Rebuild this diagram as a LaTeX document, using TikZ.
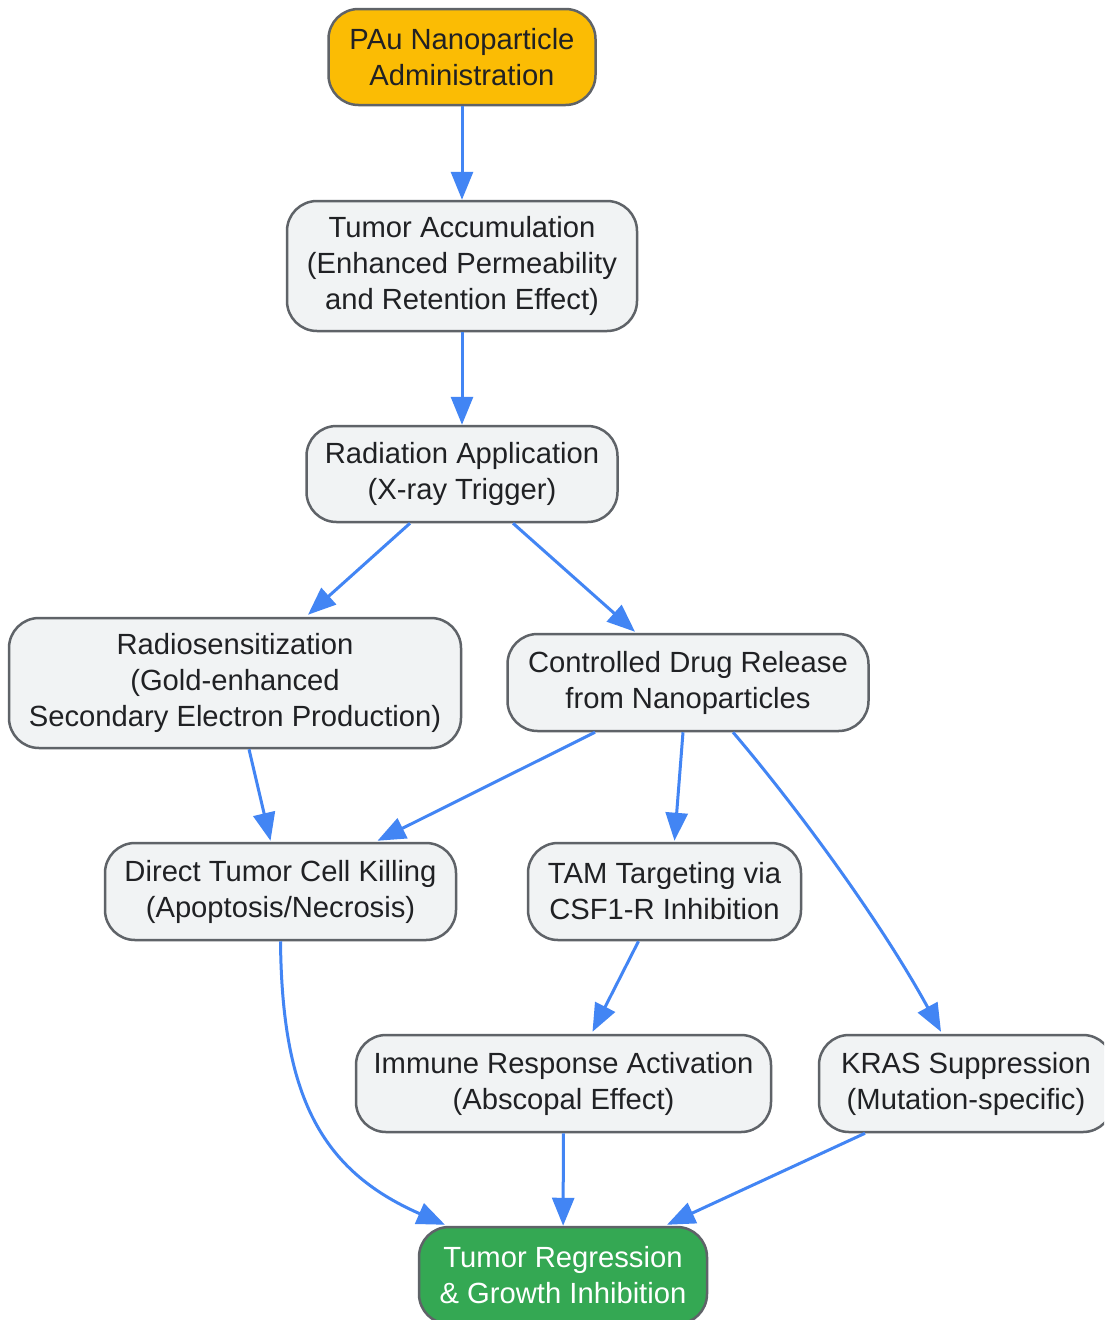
\documentclass[tikz,border=0pt]{standalone}
\usepackage{fontspec}
\setmainfont{Liberation Sans}
\usetikzlibrary{arrows.meta,calc}
\definecolor{edgec}{HTML}{4285F4}
\definecolor{boxfill}{HTML}{F1F3F4}
\definecolor{boxline}{HTML}{5F6368}
\definecolor{startfill}{HTML}{FBBC04}
\definecolor{endfill}{HTML}{34A853}
\definecolor{txt}{HTML}{202124}
\begin{document}
\begin{tikzpicture}[x=1pt,y=-1pt,
 box/.style={draw=boxline, line width=2.5pt, fill=boxfill, rounded corners=30pt, align=center, text=txt, font=\fontsize{29.2}{36}\selectfont, inner sep=0pt},
 link/.style={draw=edgec, line width=3pt, -{Triangle[length=28pt,width=22pt]}}]
\path[use as bounding box] (0,0) rectangle (1104,1320);
\clip (0,0) rectangle (1104,1320);
\fill[white] (0,0) rectangle (1104,1320);

\node[box, fill=startfill, minimum width=267pt, minimum height=96pt] (pau) at (462,57) {PAu Nanoparticle\\Administration};
\node[box, minimum width=350pt, minimum height=130pt] (ta) at (462,266) {Tumor Accumulation\\(Enhanced Permeability\\and Retention Effect)};
\node[box, minimum width=311pt, minimum height=96pt] (rad) at (462,474) {Radiation Application\\(X-ray Trigger)};
\node[box, minimum width=452pt, minimum height=130pt] (radio) at (235,683) {Radiosensitization\\(Gold-enhanced\\Secondary Electron Production)};
\node[box, minimum width=361pt, minimum height=97pt] (cdr) at (688,682.5) {Controlled Drug Release\\from Nanoparticles};
\node[box, minimum width=351pt, minimum height=97pt] (direct) at (280.5,891.5) {Direct Tumor Cell Killing\\(Apoptosis/Necrosis)};
\node[box, minimum width=273pt, minimum height=97pt] (tam) at (664.5,891.5) {TAM Targeting via\\CSF1-R Inhibition};
\node[box, minimum width=415pt, minimum height=97pt] (imm) at (563.5,1083.5) {Immune Response Activation\\(Abscopal Effect)};
\node[box, minimum width=294pt, minimum height=97pt] (kras) at (966,1083.5) {KRAS Suppression\\(Mutation-specific)};
\node[box, fill=endfill, text=white, minimum width=288pt, minimum height=97pt] (tr) at (563,1275.5) {Tumor Regression\\\& Growth Inhibition};

\draw[link] (pau) -- (ta);
\draw[link] (ta) -- (rad);
\draw[link] ($(rad.south)+(-52,0)$) -- ($(radio.north)+(73,-2)$);
\draw[link] ($(rad.south)+(51,0)$) -- ($(cdr.north)+(-53,-1)$);
\draw[link] ($(radio.south)+(14,0)$) -- ($(direct.north)+(-10,-1)$);
\draw[link] ($(cdr.south)+(-93,0)$) -- ($(direct.north)+(97,-1)$);
\draw[link] ($(cdr.south)+(-5,0)$) -- ($(tam.north)+(10,-1)$);
\draw[link] ($(cdr.south)+(45,0)$) .. controls (795,805) and (880,920) .. ($(kras.north)+(-25,-2)$);
\draw[link] (direct.south) .. controls (282,1095) and (320,1170) .. ($(tr.north)+(-118,-1)$);
\draw[link] ($(tam.south)+(-26,0)$) -- ($(imm.north)+(29,-2)$);
\draw[link] (imm) -- (tr);
\draw[link] ($(kras.south)+(-101,0)$) -- ($(tr.north)+(104,-1)$);
\end{tikzpicture}
\end{document}
